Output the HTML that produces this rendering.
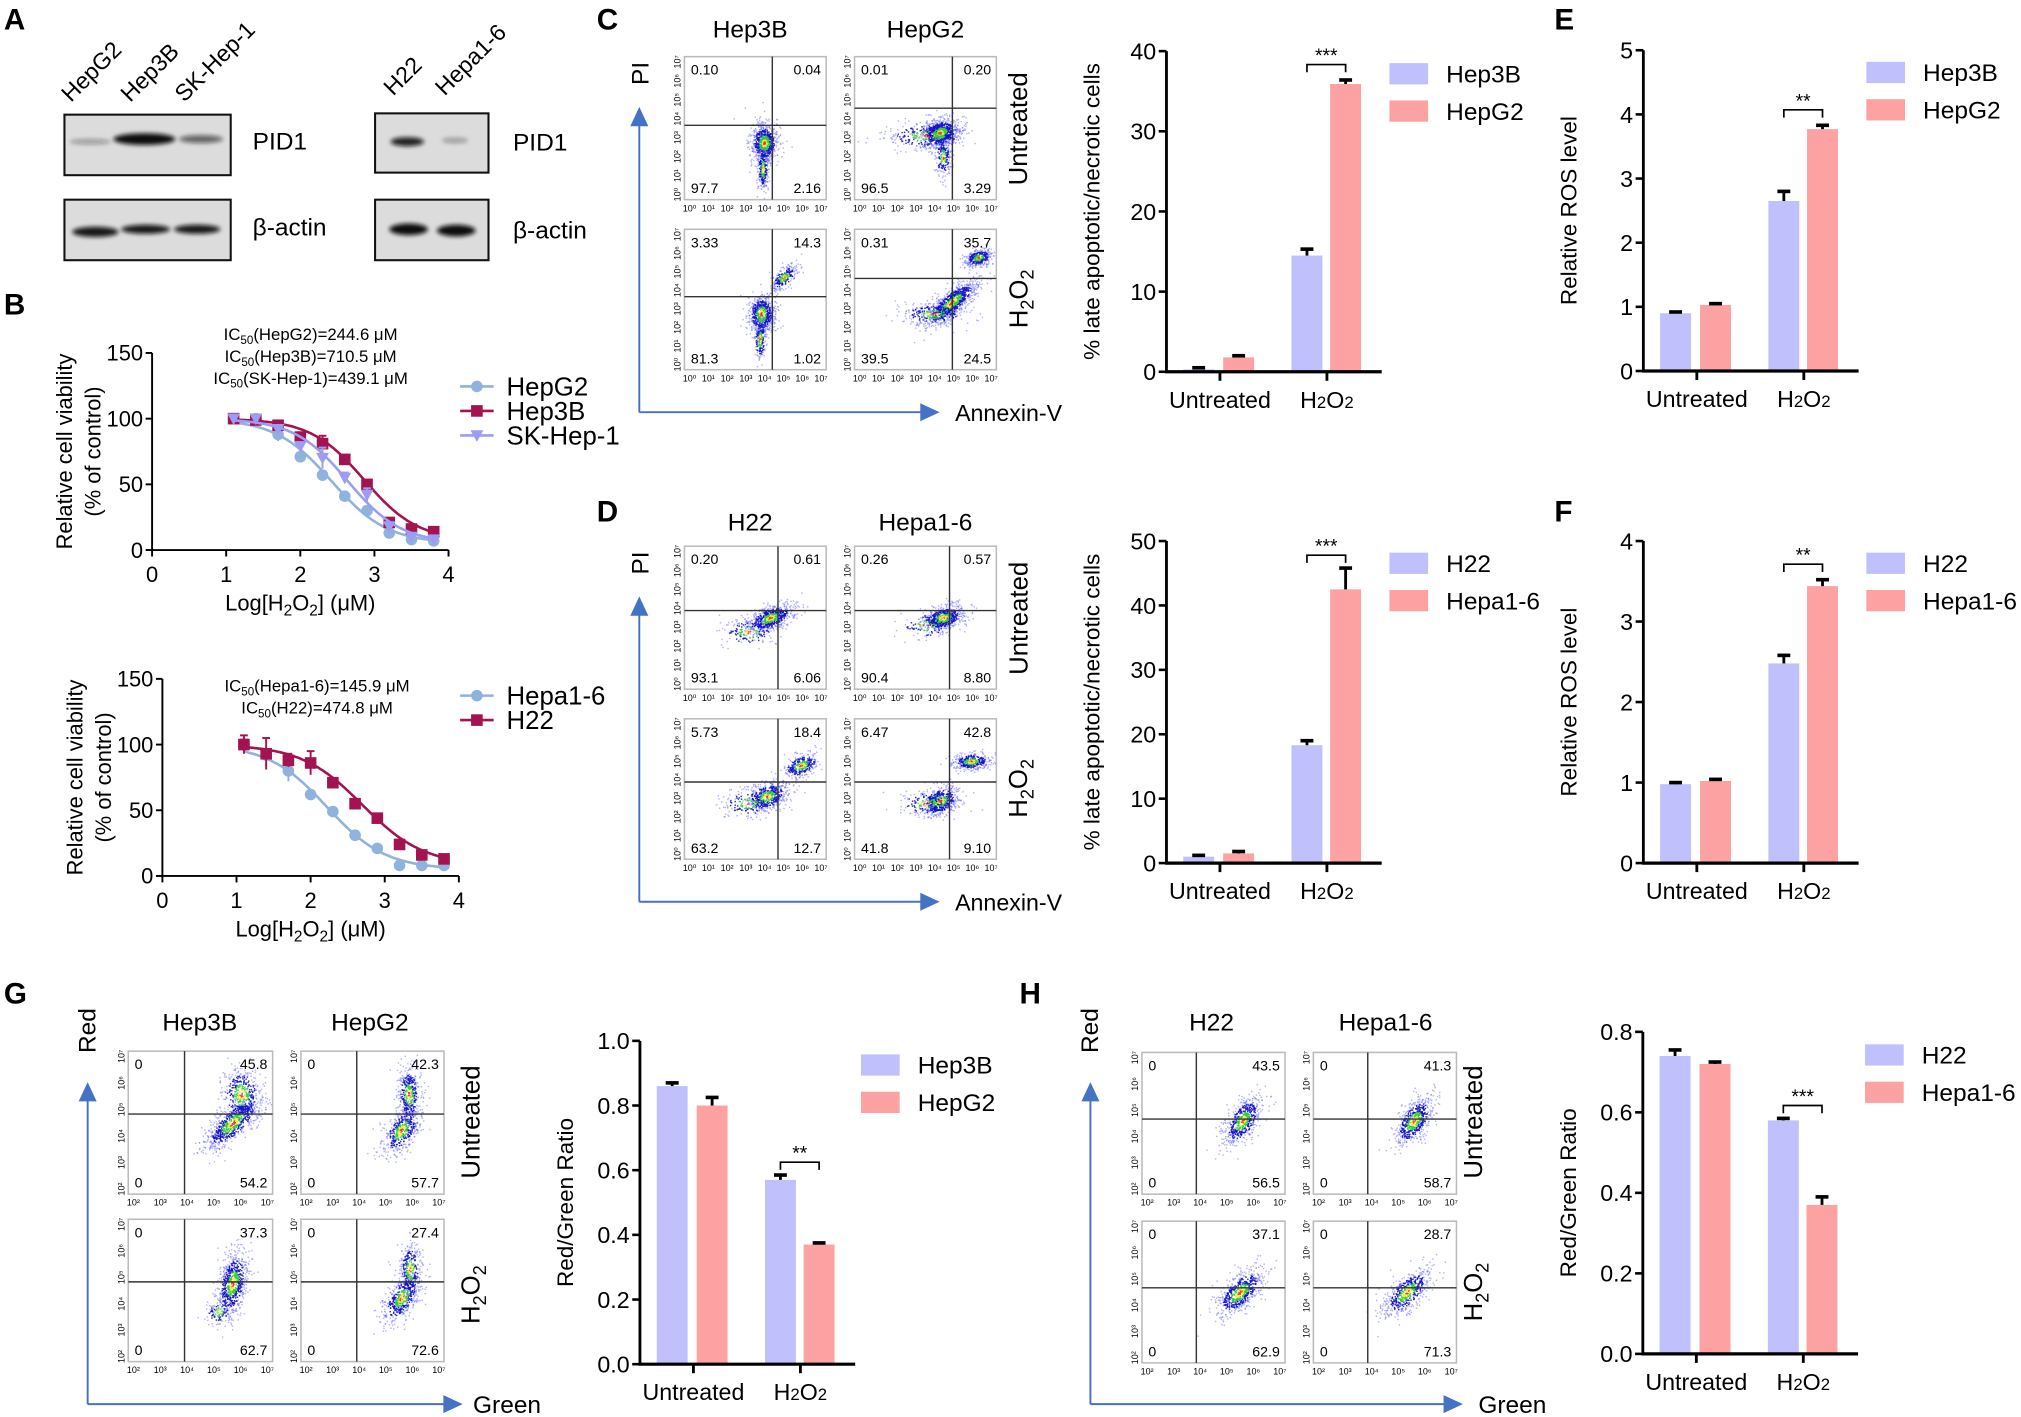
<!DOCTYPE html>
<html><head><meta charset="utf-8"><style>
html,body{margin:0;padding:0;background:#fff;}
svg{display:block;}
text{font-family:"Liberation Sans",Arial,sans-serif;fill:#000;}
</style></head><body>
<svg id="s" xmlns="http://www.w3.org/2000/svg" width="2021" height="1417" viewBox="0 0 1568 1100" preserveAspectRatio="none">
<defs>
<filter id="bl" x="-20%" y="-100%" width="140%" height="300%"><feGaussianBlur stdDeviation="1.6"/></filter>
</defs>
<g id="g"></g>
</svg>
<script>
var G=document.getElementById('g');var NS='http://www.w3.org/2000/svg';
function el(t,a,txt){var e=document.createElementNS(NS,t);for(var k in a)e.setAttribute(k,a[k]);if(txt!=null)e.textContent=txt;G.appendChild(e);return e;}
function T(x,y,s,fs,o){o=o||{};var a={x:x,y:y,'font-size':fs};if(o.a)a['text-anchor']=o.a;if(o.b)a['font-weight']='bold';if(o.r!=null)a.transform='rotate('+o.r+' '+x+' '+y+')';if(o.f)a.fill=o.f;return el('text',a,s);}
function L(x1,y1,x2,y2,c,w){return el('line',{x1:x1,y1:y1,x2:x2,y2:y2,stroke:c||'#000','stroke-width':w||1});}
T(3,23,'A',23,{b:1});T(3,244,'B',23,{b:1});T(463,23,'C',23,{b:1});T(463,405,'D',23,{b:1});
T(1206,23,'E',23,{b:1});T(1206,405,'F',23,{b:1});T(3,779,'G',23,{b:1});T(791,779,'H',23,{b:1});
function blot(x,y,w,h,bands){el('rect',{x:x,y:y,width:w,height:h,fill:'#dcdcdc',stroke:'#111','stroke-width':1.6});
bands.forEach(function(b){el('ellipse',{cx:b[0],cy:b[1],rx:b[2],ry:b[3],fill:'#111','fill-opacity':b[4],filter:'url(#bl)'});});}
blot(50,89,129,47,[[70,110,16,2,0.35],[112,108,24,4.5,1],[156,108,17,3,0.6]]);
blot(50,155,129,47,[[74,180,18,4,0.95],[113,178,19,3.5,0.95],[153,178,18,3.5,0.95]]);
blot(291,88,88,46,[[316,110,13,3.5,0.9],[353,109,10,2,0.35]]);
blot(291,155,88,47,[[317,178,15,4.5,1],[354,179,15,4.5,1]]);
T(196,116,'PID1',19);T(196,183,'β-actin',19);T(398,117,'PID1',19);T(398,185,'β-actin',19);
[['HepG2',55,80],['Hep3B',101,80],['SK-Hep-1',143,80],['H22',305,75],['Hepa1-6',345,75]].forEach(function(a){T(a[1],a[2],a[0],18,{r:-45});});
function dose(ax,ay0,ay150,axEnd,ser,ic,leg){
 var sx=(axEnd-ax)/4,sy=(ay0-ay150)/150;
 function X(v){return ax+v*sx;}function Y(v){return ay0-v*sy;}
 L(ax,ay150,ax,ay0,'#000',1.5);L(ax,ay0,axEnd,ay0,'#000',1.5);
 [0,50,100,150].forEach(function(t){L(ax-5,Y(t),ax,Y(t),'#000',1.5);T(ax-7,Y(t)+6,t,17,{a:'end'});});
 [0,1,2,3,4].forEach(function(t){L(X(t),ay0,X(t),ay0+5,'#000',1.5);T(X(t),ay0+25,t,17,{a:'middle'});});
 var t=T((ax+axEnd)/2,ay0+47,'',17,{a:'middle'});t.innerHTML='Log[H<tspan font-size="12" dy="4">2</tspan><tspan dy="-4">O</tspan><tspan font-size="12" dy="4">2</tspan><tspan dy="-4">] (μM)</tspan>';
 var my=(ay0+ay150)/2;T(ax-62,my,'Relative cell viability',17,{a:'middle',r:-90});T(ax-40,my,'(% of control)',17,{a:'middle',r:-90});
 ic.forEach(function(s,i){var t=T(ic.cx,ic.y+i*17,'',13,{a:'middle'});t.innerHTML='IC<tspan font-size="9" dy="3">50</tspan><tspan dy="-3">'+s+'</tspan>';});
 var xs=[1.1,1.4,1.7,2.0,2.3,2.6,2.9,3.2,3.5,3.8];
 ser.forEach(function(s,i){var d='';for(var v=1.1;v<=3.81;v+=0.02){var yv=s.b+(100-s.b)/(1+Math.pow(10,(v-s.ic)*s.h));d+=(d?'L':'M')+X(v).toFixed(1)+','+Y(yv).toFixed(1);}
  el('path',{d:d,fill:'none',stroke:s.c,'stroke-width':2});
  s.p.forEach(function(p,j){var cx=X(xs[j]),cy=Y(p);if(s.e&&s.e[j])L(cx,Y(p-s.e[j]),cx,Y(p+s.e[j]),s.c,1.5),L(cx-3,Y(p+s.e[j]),cx+3,Y(p+s.e[j]),s.c,1.5);mark(s.m,cx,cy,s.c);});
  var ly=leg.y+i*19;L(leg.x,ly,leg.x+26,ly,s.c,2);mark(s.m,leg.x+13,ly,s.c);T(leg.x+36,ly+7,s.n,20);
 });}
function mark(m,x,y,c){if(m=='o')el('circle',{cx:x,cy:y,r:4.5,fill:c});else if(m=='s')el('rect',{x:x-4.5,y:y-4.5,width:9,height:9,fill:c});else el('path',{d:'M'+(x-5)+','+(y-4)+'L'+(x+5)+','+(y-4)+'L'+x+','+(y+5)+'Z',fill:c});}
var cB='#8fb3dd',cR='#a3134f',cS='#9c9cf4';
var ic1=['(HepG2)=244.6 μM','(Hep3B)=710.5 μM','(SK-Hep-1)=439.1 μM'];ic1.cx=241;ic1.y=264;
dose(118,427,274,348,[
 {n:'HepG2',c:cB,m:'o',ic:2.42,h:1.15,b:5,p:[100,100,88,71,57,41,30,13,8,7],e:[0,0,5,3,3,2,3,2,1,1]},
 {n:'Hep3B',c:cR,m:'s',ic:2.86,h:1.2,b:7,p:[100,99,95,86,81,69,50,21,16,14],e:[0,0,0,2,6,2,2,2,2,2]},
 {n:'SK-Hep-1',c:cS,m:'v',ic:2.64,h:1.2,b:5,p:[100,100,92,79,70,55,42,18,10,8],e:[0,0,2,3,8,4,5,2,1,1]}],ic1,{x:357,y:300});
var ic2=['(Hepa1-6)=145.9 μM','(H22)=474.8 μM'];ic2.cx=246;ic2.y=537;
dose(126,680,527,356,[
 {n:'Hepa1-6',c:cB,m:'o',ic:2.22,h:1.1,b:5,p:[100,92,80,62,49,31,21,8,8,8],e:[4,0,8,0,0,3,0,0,0,0]},
 {n:'H22',c:cR,m:'s',ic:2.7,h:1.05,b:8,p:[100,93,88,86,71,55,44,24,16,13],e:[7,12,5,9,0,0,0,0,0,0]}],ic2,{x:357,y:540});
function bars(ax,y0,yt,max,ticks,dec,vals,errs,names,ylab,stars,leg){
 var k=(y0-yt)/max;function Y(v){return y0-v*k;}
 var off=[13,44,97,127],cols=['#c0c0fc','#fda2a2'];
 vals.forEach(function(v,i){var x=ax+off[i];el('rect',{x:x,y:Y(v),width:24,height:v*k,fill:cols[i%2]});
  var cx=x+12,ye=Y(v+errs[i]);L(cx,Y(v),cx,ye,'#000',2.2);L(cx-5,ye,cx+5,ye,'#000',2.8);});
 L(ax,yt,ax,y0+1,'#000',2.2);L(ax-1,y0,ax+167,y0,'#000',2.5);
 ticks.forEach(function(t){L(ax-6,Y(t),ax,Y(t),'#000',2);T(ax-8,Y(t)+6.5,dec?t.toFixed(1):t,18,{a:'end'});});
 [41.5,124.5].forEach(function(o){L(ax+o,y0,ax+o,y0+7,'#000',2.2);});
 T(ax+41.5,y0+28,'Untreated',18,{a:'middle'});
 var h=T(ax+124.5,y0+28,'',18,{a:'middle'});h.innerHTML='H<tspan font-size="13">2</tspan>O<tspan font-size="13">2</tspan>';
 T(ax-52,(y0+yt)/2,ylab,17.5,{a:'middle',r:-90});
 var top=Math.max(vals[2]+errs[2],vals[3]+errs[3]);var by=Y(top)-(stars.g||10);var x1=ax+109,x2=ax+139;
 el('path',{d:'M'+x1+','+(by+6)+'V'+by+'H'+x2+'V'+(by+6),fill:'none',stroke:'#000','stroke-width':1.3});
 T((x1+x2)/2,by-2,stars.s,15,{a:'middle'});
 names.forEach(function(n,i){el('rect',{x:leg.x,y:leg.y+i*29,width:30,height:16.5,fill:cols[i]});T(leg.x+44,leg.y+i*29+15,n,19);});
}
bars(905,288.6,39.7,40,[0,10,20,30,40],0,[0.3,1.8,14.5,35.9],[0.2,0.2,0.8,0.5],['Hep3B','HepG2'],'% late apoptotic/necrotic cells',{s:'***',g:12},{x:1078,y:49});
bars(905,670,420,50,[0,10,20,30,40,50],0,[1.0,1.5,18.3,42.5],[0.2,0.3,0.7,3.3],['H22','Hepa1-6'],'% late apoptotic/necrotic cells',{s:'***',g:10},{x:1078,y:429});
bars(1275,288,39,5,[0,1,2,3,4,5],0,[0.9,1.03,2.65,3.77],[0.02,0.02,0.15,0.06],['Hep3B','HepG2'],'Relative ROS level',{s:'**',g:12},{x:1448,y:48});
bars(1275,670,420,4,[0,1,2,3,4],0,[0.98,1.02,2.48,3.44],[0.02,0.02,0.1,0.08],['H22','Hepa1-6'],'Relative ROS level',{s:'**',g:12},{x:1448,y:429});
bars(496.5,1059,808,1.0,[0,0.2,0.4,0.6,0.8,1.0],1,[0.86,0.80,0.57,0.37],[0.01,0.025,0.015,0.005],['Hep3B','HepG2'],'Red/Green Ratio',{s:'**',g:10},{x:668,y:818.5});
bars(1274.6,1051,801,0.8,[0,0.2,0.4,0.6,0.8],1,[0.74,0.72,0.58,0.37],[0.015,0.005,0.005,0.02],['H22','Hepa1-6'],'Red/Green Ratio',{s:'***',g:10},{x:1447,y:810.7});
var seed=7;function rnd(){seed=(seed*16807)%2147483647;return seed/2147483647;}
function gauss(){return Math.sqrt(-2*Math.log(rnd()+1e-9))*Math.cos(2*Math.PI*rnd());}
function flow(x,y,w,h,vr,hr,cl,nums,grey,tk){
 el('rect',{x:x,y:y,width:w,height:h,fill:'#fff',stroke:'#bbb','stroke-width':1.2});
 var out='';
 cl.forEach(function(c){for(var i=0;i<c[4];i++){var a=gauss(),b=gauss();var dx=a*c[2],dy=b*c[3];var r=c[5]||0;var px=c[0]+dx*Math.cos(r)-dy*Math.sin(r),py=c[1]+dx*Math.sin(r)+dy*Math.cos(r);
  if(px<0.01||px>0.99||py<0.01||py>0.99)continue;var d=Math.sqrt(a*a+b*b);var col=d<0.2?'#e33':d<0.4?'#ee3':d<0.75?'#3c3':d<1.4?'#11c':'#55f';var op=d<1.4?0.9:0.45;
  out+='<rect x="'+(x+px*w).toFixed(1)+'" y="'+(y+py*h).toFixed(1)+'" width="1.1" height="1.1" fill="'+col+'" fill-opacity="'+op+'"/>';}});
 var gg=document.createElementNS(NS,'g');gg.innerHTML=out;G.appendChild(gg);
 L(x+w*vr,y,x+w*vr,y+h,'#333',1.1);L(x,y+h*hr,x+w,y+h*hr,'#333',1.1);
 T(x+5,y+14,nums[0],11);T(x+w-4,y+14,nums[1],11,{a:'end'});T(x+5,y+h-5,nums[2],11);T(x+w-4,y+h-5,nums[3],11,{a:'end'});
 for(var i=0;i<tk.length;i++){var tx=x+4+i*(w-8)/(tk.length-1);T(tx,y+h+9,'10'+tk[i],7,{a:'middle',f:'#333'});var ty=y+h-4-i*(h-8)/(tk.length-1);T(x-3,ty,'10'+tk[i],7,{a:'middle',r:-90,f:'#333'});}
}
var sup=['⁰','¹','²','³','⁴','⁵','⁶','⁷'],sup2=['²','³','⁴','⁵','⁶','⁷'];
function arrows(vx,yb,yt,xr){L(vx,yb,vx,yt+14,'#4472c4',1.5);el('path',{d:'M'+(vx-7)+','+(yt+15)+'L'+(vx+7)+','+(yt+15)+'L'+vx+','+yt+'Z',fill:'#4472c4'});
 L(vx,yb,xr-14,yb,'#4472c4',1.5);el('path',{d:'M'+(xr-15)+','+(yb-7)+'L'+(xr-15)+','+(yb+7)+'L'+xr+','+yb+'Z',fill:'#4472c4'});}
function rowlab(x,y1,y2){T(x,y1,'Untreated',20,{a:'middle',r:-90});var t=T(x,y2,'',20,{a:'middle',r:-90});t.innerHTML='H<tspan font-size="14" dy="5">2</tspan><tspan dy="-5">O</tspan><tspan font-size="14" dy="5">2</tspan>';}
T(582,29,'Hep3B',19,{a:'middle'});T(718,29,'HepG2',19,{a:'middle'});
arrows(496,320,83,729);T(503,57,'PI',19,{a:'middle',r:-90});T(741,327,'Annexin-V',18);
flow(531,44,110,111,0.62,0.48,[[0.56,0.6,0.05,0.07,700,0],[0.55,0.78,0.02,0.08,250,0]],['0.10','0.04','97.7','2.16'],0,sup);
flow(663,44,110,111,0.69,0.36,[[0.6,0.53,0.07,0.05,800,-0.3],[0.5,0.55,0.15,0.05,250,0],[0.62,0.7,0.03,0.07,200,0]],['0.01','0.20','96.5','3.29'],0,sup);
flow(531,178,110,109,0.62,0.48,[[0.54,0.6,0.05,0.07,600,0],[0.7,0.34,0.06,0.03,250,-0.8],[0.53,0.78,0.02,0.08,200,0]],['3.33','14.3','81.3','1.02'],0,sup);
flow(663,178,110,109,0.69,0.35,[[0.68,0.52,0.12,0.04,900,-0.7],[0.87,0.2,0.05,0.03,350,-0.3],[0.55,0.6,0.12,0.04,250,0]],['0.31','35.7','39.5','24.5'],0,sup);
rowlab(797,100,232);
T(582,412,'H22',19,{a:'middle'});T(718,412,'Hepa1-6',19,{a:'middle'});
arrows(496,700,463,729);T(503,437,'PI',19,{a:'middle',r:-90});T(741,707,'Annexin-V',18);
flow(531,424,110,111,0.66,0.45,[[0.6,0.5,0.09,0.04,650,-0.4],[0.45,0.6,0.1,0.05,150,0]],['0.20','0.61','93.1','6.06'],0,sup);
flow(663,424,110,111,0.67,0.45,[[0.62,0.5,0.08,0.04,600,-0.3],[0.5,0.55,0.1,0.05,100,0]],['0.26','0.57','90.4','8.80'],0,sup);
flow(531,558,110,109,0.66,0.45,[[0.58,0.55,0.08,0.05,500,-0.4],[0.82,0.33,0.07,0.04,300,-0.4],[0.45,0.6,0.1,0.05,150,0]],['5.73','18.4','63.2','12.7'],0,sup);
flow(663,558,110,109,0.67,0.45,[[0.6,0.58,0.07,0.05,500,-0.4],[0.82,0.3,0.07,0.03,350,-0.1],[0.5,0.6,0.1,0.05,150,0]],['6.47','42.8','41.8','9.10'],0,sup);
rowlab(797,480,612);
T(155,800,'Hep3B',19,{a:'middle'});T(287,800,'HepG2',19,{a:'middle'});
arrows(68,1090,840,359);T(74,800,'Red',19,{a:'middle',r:-90});T(367,1097,'Green',19);
flow(99.5,816,112,111,0.39,0.44,[[0.72,0.5,0.13,0.05,700,-0.75],[0.78,0.3,0.07,0.1,400,0]],['0','45.8','0','54.2'],1,sup2);
flow(233.5,816,111,111,0.39,0.44,[[0.7,0.55,0.1,0.05,500,-1.0],[0.75,0.3,0.04,0.1,400,0]],['0','42.3','0','57.7'],1,sup2);
flow(99.5,946.5,112,110.5,0.39,0.44,[[0.72,0.45,0.05,0.12,700,0.2],[0.62,0.65,0.05,0.04,100,-0.7]],['0','37.3','0','62.7'],1,sup2);
flow(233.5,946.5,111,110.5,0.39,0.44,[[0.7,0.55,0.1,0.05,500,-1.0],[0.76,0.35,0.04,0.1,300,0]],['0','27.4','0','72.6'],1,sup2);
rowlab(372,871,1005);
T(940,800,'H22',19,{a:'middle'});T(1075,800,'Hepa1-6',19,{a:'middle'});
arrows(846,1090,840,1135);T(852,800,'Red',19,{a:'middle',r:-90});T(1147,1097,'Green',19);
flow(886,817,111,110,0.38,0.47,[[0.7,0.48,0.1,0.05,550,-1.0]],['0','43.5','0','56.5'],1,sup2);
flow(1019,817,111,110,0.38,0.47,[[0.7,0.48,0.1,0.05,550,-1.0]],['0','41.3','0','58.7'],1,sup2);
flow(886,948,111,110,0.38,0.47,[[0.68,0.5,0.11,0.05,600,-0.8]],['0','37.1','0','62.9'],1,sup2);
flow(1019,948,111,110,0.38,0.47,[[0.65,0.5,0.11,0.05,550,-0.8]],['0','28.7','0','71.3'],1,sup2);
rowlab(1150,871,1003);
</script>
</body></html>
